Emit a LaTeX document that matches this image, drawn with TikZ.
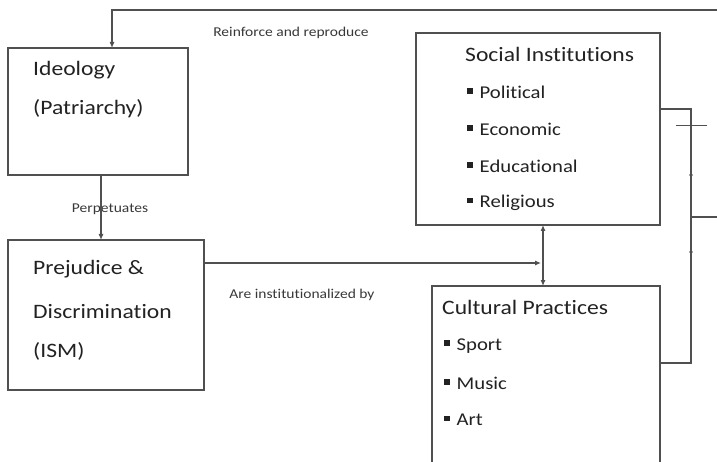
\documentclass[tikz,border=0pt]{standalone}
\usepackage{fontspec}
\setmainfont{Carlito}[FakeStretch=1.15,Ligatures=NoCommon]
\usetikzlibrary{arrows.meta}
\definecolor{ln}{HTML}{505050}
\definecolor{tx}{HTML}{222222}
\begin{document}
\begin{tikzpicture}[x=1pt,y=-1pt,
  box/.style={draw=ln,line width=1.2pt,anchor=north west,inner sep=0pt,outer sep=0pt,fill=white},
  ttl/.style={anchor=west,inner sep=0pt,text=tx,font=\fontsize{20.5}{24}\selectfont},
  itm/.style={anchor=west,inner sep=0pt,text=tx,font=\fontsize{18}{21}\selectfont},
  lbl/.style={anchor=center,inner sep=0pt,text=tx!90,font=\fontsize{13.5}{16}\selectfont},
  conn/.style={draw=ln,line width=1.1pt},
  arr/.style={conn,-{Latex[length=6pt,width=5pt]}},
  darr/.style={conn,{Latex[length=6pt,width=5pt]}-{Latex[length=6pt,width=5pt]}}]
\useasboundingbox (0,0) rectangle (717,462);
\clip (0,0) rectangle (717,462);
\newcommand{\bul}{\raisebox{4.5pt}{\rule{5.5pt}{5.5pt}}\hspace{7pt}}
% boxes
\node[box,minimum width=180pt,minimum height=127pt] (ideo) at (8,48) {};
\node[box,minimum width=196pt,minimum height=150pt] (prej) at (8,240) {};
\node[box,minimum width=244pt,minimum height=192pt] (soc) at (416,33) {};
\node[box,minimum width=228pt,minimum height=200pt] (cult) at (432,286) {};
% texts
\node[ttl] (t1) at (33,70) {Ideology};
\node[ttl] (t2) at (33,109) {(Patriarchy)};
\node[ttl] (t3) at (33,269) {Prejudice \&};
\node[ttl] (t4) at (33,312) {Discrimination};
\node[ttl] (t5) at (33,351) {(ISM)};
\node[ttl] (t6) at (465,54) {Social Institutions};
\node[itm] (s1) at (467,92) {\bul Political};
\node[itm] (s2) at (467,129) {\bul Economic};
\node[itm] (s3) at (467,166) {\bul Educational};
\node[itm] (s4) at (467,203) {\bul Religious};
\node[ttl] (t7) at (442,307) {Cultural Practices};
\node[itm] (c1) at (444,346) {\bul Sport};
\node[itm] (c2) at (444,383) {\bul Music};
\node[itm] (c3) at (444,420) {\bul Art};
\node[lbl] (l1) at (291,33) {Reinforce and reproduce};
\node[lbl] (l2) at (110,209) {Perpetuates};
\node[lbl] (l3) at (302,295) {Are institutionalized by};
% connectors
\coordinate (tr) at (717,10);
\coordinate (tl) at (112,10);
\draw[arr] (tr) -- (tl) -- (tl |- ideo.north);
\coordinate (pa) at (101,0);
\draw[arr] (ideo.south -| pa) -- (prej.north -| pa);
\coordinate (pj) at (541,263);
\draw[arr] (prej.east |- pj) -- (pj);
\coordinate (dv) at (543,0);
\draw[darr] (soc.south -| dv) -- (cult.north -| dv);
\coordinate (r1) at (691,109);
\coordinate (r2) at (691,363);
\draw[conn] (soc.east |- r1) -- (r1) -- (r2) -- (cult.east |- r2);
\coordinate (rm) at (691,217);
\coordinate (re) at (717,217);
\draw[conn] (rm) -- (re);
\coordinate (k1) at (676,125);
\coordinate (k2) at (707,125);
\draw[conn,line width=0.8pt] (k1) -- (k2);
\fill[ln] (691,175) circle (1.8pt);
\fill[ln] (691,252) circle (1.8pt);
\end{tikzpicture}
\end{document}
